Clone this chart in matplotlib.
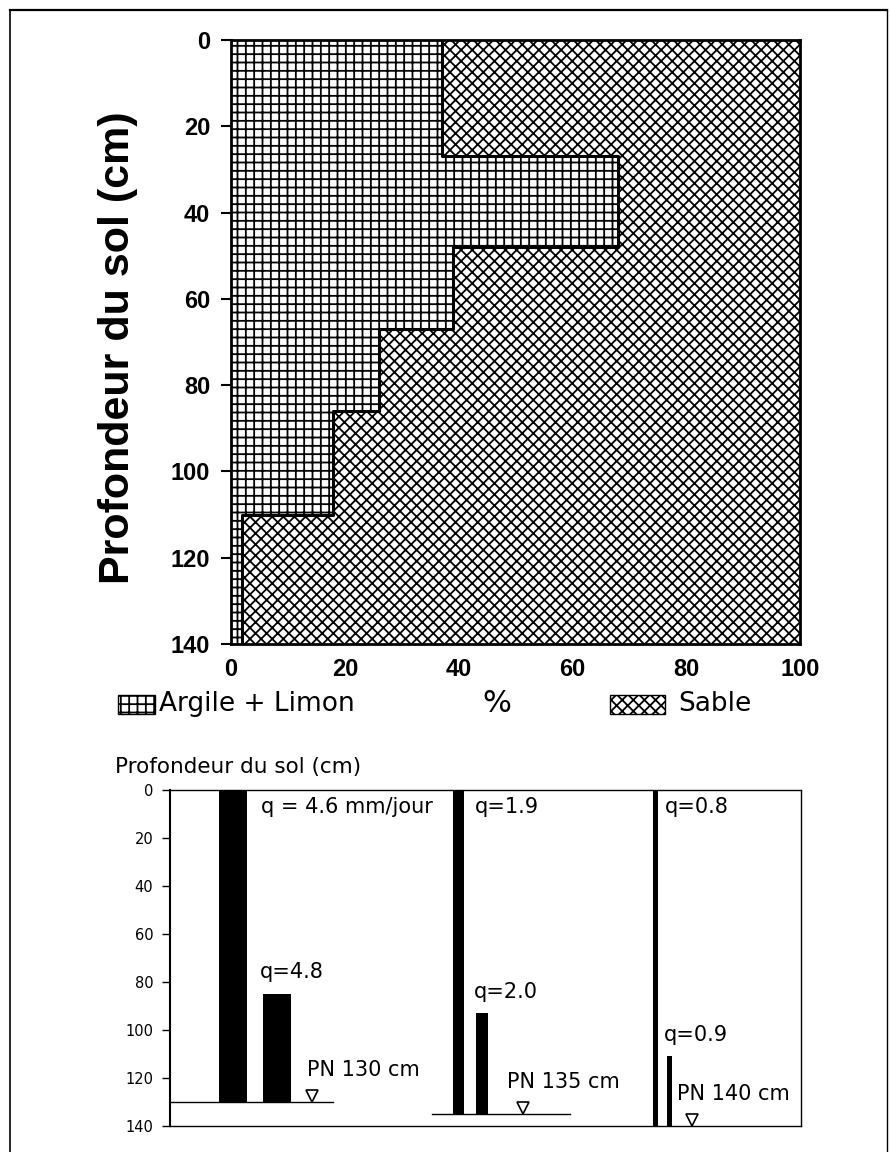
import matplotlib
matplotlib.use("Agg")
import matplotlib.pyplot as plt
import numpy as np
from matplotlib.lines import Line2D
from matplotlib.patches import Rectangle

# soil texture profile (top panel)
depth_edges = [0, 27, 48, 67, 86, 110, 140]
argile_limon = [37, 68, 39, 26, 18, 2]
depth_ticks = [0, 20, 40, 60, 80, 100, 120, 140]
pct_ticks = [0, 20, 40, 60, 80, 100]

# drainage fluxes (bottom panel)
water_table = [130, 135, 140]
q_top = [4.6, 1.9, 0.8]
q_low = [4.8, 2.0, 0.9]
low_top = [85, 93, 111]
q_top_labels = ["q = 4.6 mm/jour", "q=1.9", "q=0.8"]
q_low_labels = ["q=4.8", "q=2.0", "q=0.9"]

# layout of the bottom panel, in axis units (pixels from left spine)
panel_x = [49, 283, 483]
bar_gap = [16, 12, 9]
line_span = [(0, 163), (262, 400), None]
pn_x = [137, 337, 507]
tri_x = [142, 353, 522]
WIDTH_SCALE = 6.0

BOLD = "Liberation Sans"
LIGHT = "DejaVu Sans"

plt.rcParams["hatch.linewidth"] = 1.3

fig = plt.figure(figsize=(8.9, 11.52), dpi=100)

# page frame
fig.add_artist(Line2D([10 / 890, 10 / 890], [0, 1 - 10 / 1152], transform=fig.transFigure, color="black", lw=1.2))
fig.add_artist(Line2D([10 / 890, 887 / 890], [1 - 10 / 1152, 1 - 10 / 1152], transform=fig.transFigure, color="black", lw=1.6))
fig.add_artist(Line2D([887 / 890, 887 / 890], [0, 1 - 10 / 1152], transform=fig.transFigure, color="black", lw=1.0))

# ---- top panel ----
ax = fig.add_axes([0.2596, 0.4410, 0.6393, 0.5243])
x_clay = np.append(argile_limon, argile_limon[-1])
ax.fill_betweenx(depth_edges, 0, x_clay, step="post", facecolor="white",
                 edgecolor="black", hatch="++", linewidth=0)
ax.fill_betweenx(depth_edges, x_clay, 100, step="post", facecolor="white",
                 edgecolor="black", hatch="xxx", linewidth=0)
xs = np.repeat(argile_limon, 2)
ys = np.repeat(depth_edges, 2)[1:-1]
ax.plot(xs, ys, color="black", lw=2.2)

ax.set_xlim(0, 100)
ax.set_ylim(140, 0)
ax.set_xticks(pct_ticks)
ax.set_yticks(depth_ticks)
for side in ax.spines.values():
    side.set_linewidth(2)
ax.tick_params(axis="y", length=7, width=1.5, pad=8)
ax.tick_params(axis="x", length=0, pad=10)
for lab in ax.get_xticklabels() + ax.get_yticklabels():
    lab.set_fontfamily(BOLD)
    lab.set_fontweight("bold")
    lab.set_fontsize(17)

fig.text(118 / 890, 1 - 348 / 1152, "Profondeur du sol (cm)", rotation=90,
         ha="center", va="center", fontsize=31, fontweight="bold", family=BOLD)

# legend row
fig.add_artist(Rectangle((118 / 890, 1 - 714 / 1152), 37 / 890, 19 / 1152,
                         transform=fig.transFigure, facecolor="white",
                         edgecolor="black", hatch="++", lw=1))
fig.text(159 / 890, 1 - 704 / 1152, "Argile + Limon", ha="left", va="center",
         fontsize=19, family=LIGHT)
fig.text(497 / 890, 1 - 704 / 1152, "%", ha="center", va="center",
         fontsize=22, family=LIGHT)
fig.add_artist(Rectangle((610 / 890, 1 - 714 / 1152), 55 / 890, 19 / 1152,
                         transform=fig.transFigure, facecolor="white",
                         edgecolor="black", hatch="xxx", lw=1))
fig.text(678 / 890, 1 - 704 / 1152, "Sable", ha="left", va="center",
         fontsize=19, family=LIGHT)

# ---- bottom panel ----
bx = fig.add_axes([0.1910, 0.02257, 0.7090, 0.29167])
bx.set_xlim(0, 631)
bx.set_ylim(140, 0)

for i in range(3):
    w1 = q_top[i] * WIDTH_SCALE
    w2 = q_low[i] * WIDTH_SCALE
    left2 = panel_x[i] + w1 + bar_gap[i]
    bx.bar(panel_x[i], water_table[i], width=w1, bottom=0, align="edge", color="black")
    bx.bar(left2, water_table[i] - low_top[i], width=w2, bottom=low_top[i],
           align="edge", color="black")
    if line_span[i] is not None:
        bx.plot(line_span[i], [water_table[i], water_table[i]], color="black", lw=1)
    bx.text(left2 - 2, 7, q_top_labels[i], ha="left", va="center", fontsize=15, family=LIGHT)
    bx.text(left2 - 3, low_top[i] - 9, q_low_labels[i], ha="left", va="center",
            fontsize=15, family=LIGHT)
    bx.text(pn_x[i], water_table[i] - 13.5, f"PN {water_table[i]} cm", ha="left",
            va="center", fontsize=15, family=LIGHT)
    bx.plot(tri_x[i], water_table[i] - 2.6, marker="v", markersize=8,
            markerfacecolor="white", markeredgecolor="black", markeredgewidth=1.2)

bx.set_xticks([])
bx.set_yticks(depth_ticks)
bx.tick_params(axis="y", length=6, width=1, pad=6, labelsize=10.5)
for lab in bx.get_yticklabels():
    lab.set_fontfamily(LIGHT)
for side in bx.spines.values():
    side.set_linewidth(1)
bx.spines["left"].set_linewidth(1.5)

fig.text(115 / 890, 1 - 767 / 1152, "Profondeur du sol (cm)", ha="left", va="center",
         fontsize=15.5, family=LIGHT)

fig.savefig("out.png", dpi=100)
